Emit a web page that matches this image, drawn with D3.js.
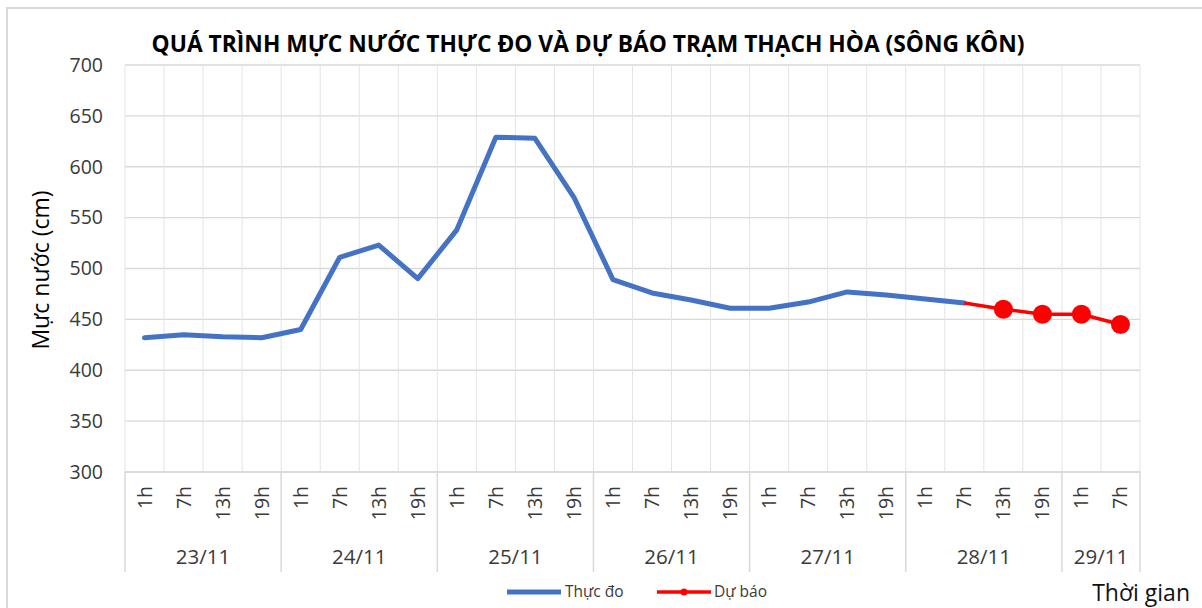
<!DOCTYPE html>
<html>
<head>
<meta charset="utf-8">
<script src="https://cdn.jsdelivr.net/npm/d3@7"></script>
<style>
  body { margin: 0; background: #fff; }
  svg { display: block; font-family: "Open Sans", "Noto Sans", sans-serif; }
</style>
</head>
<body>
<div id="chart"></div>
<script>
// Data
const hourLabels = ["1h", "7h", "13h", "19h", "1h", "7h", "13h", "19h", "1h", "7h", "13h", "19h",
  "1h", "7h", "13h", "19h", "1h", "7h", "13h", "19h", "1h", "7h", "13h", "19h", "1h", "7h"];
const dayLabels = ["23/11", "24/11", "25/11", "26/11", "27/11", "28/11", "29/11"];
const pointsPerDay = [4, 4, 4, 4, 4, 4, 2];
const observed = [432, 435, 433, 432, 440, 511, 523, 490, 538, 629, 628, 570,
  489, 476, 469, 461, 461, 467, 477, 474, 470, 466, null, null, null, null];
const forecast = [null, null, null, null, null, null, null, null, null, null, null, null,
  null, null, null, null, null, null, null, null, null, 466, 460, 455, 455, 445];
const yTicks = [300, 350, 400, 450, 500, 550, 600, 650, 700];

const W = 1202, H = 608;
const plot = { left: 125, right: 1140, top: 65, bottom: 472 };
const textColor = "#3a3a3a";

const svg = d3.select("#chart").append("svg")
  .attr("width", W)
  .attr("height", H);

// chart area border (cut off at right/bottom like the screenshot)
svg.append("rect")
  .attr("x", 7).attr("y", 8)
  .attr("width", W + 20).attr("height", H + 20)
  .attr("fill", "none")
  .attr("stroke", "#d9d9d9")
  .attr("stroke-width", 2);

const x = d3.scaleBand()
  .domain(d3.range(hourLabels.length))
  .range([plot.left, plot.right])
  .padding(0);
const bw = x.bandwidth();
const cx = i => x(i) + bw / 2;

const y = d3.scaleLinear()
  .domain([300, 700])
  .range([plot.bottom, plot.top]);

// horizontal gridlines
svg.append("g")
  .selectAll("line")
  .data(yTicks)
  .join("line")
    .attr("x1", plot.left).attr("x2", plot.right)
    .attr("y1", d => y(d)).attr("y2", d => y(d))
    .attr("stroke", "#d9d9d9")
    .attr("stroke-width", 1.3);

// vertical minor gridlines at every category boundary
const boundaries = d3.range(hourLabels.length + 1).map(i => i < hourLabels.length ? x(i) : plot.right);
svg.append("g")
  .selectAll("line")
  .data(boundaries)
  .join("line")
    .attr("x1", d => d).attr("x2", d => d)
    .attr("y1", plot.top).attr("y2", plot.bottom)
    .attr("stroke", "#e3e3e3")
    .attr("stroke-width", 1);

// category axis line + group separators
svg.append("line")
  .attr("x1", plot.left).attr("x2", plot.right)
  .attr("y1", plot.bottom).attr("y2", plot.bottom)
  .attr("stroke", "#d9d9d9")
  .attr("stroke-width", 1.5);

const groupStarts = d3.cumsum([0, ...pointsPerDay]);
svg.append("g")
  .selectAll("line")
  .data(groupStarts)
  .join("line")
    .attr("x1", d => d < hourLabels.length ? x(d) : plot.right)
    .attr("x2", d => d < hourLabels.length ? x(d) : plot.right)
    .attr("y1", plot.bottom).attr("y2", plot.bottom + 100)
    .attr("stroke", "#d9d9d9")
    .attr("stroke-width", 1.5);

// y tick labels
svg.append("g")
  .selectAll("text")
  .data(yTicks)
  .join("text")
    .attr("x", 103)
    .attr("y", d => y(d))
    .attr("dy", "0.35em")
    .attr("text-anchor", "end")
    .style("font-size", "19.5px")
    .style("fill", textColor)
    .text(d => d);

// hour labels (rotated)
svg.append("g")
  .selectAll("text")
  .data(hourLabels)
  .join("text")
    .attr("transform", (d, i) => `translate(${cx(i) + 7}, 486) rotate(-90)`)
    .attr("text-anchor", "end")
    .style("font-size", "19.5px")
    .style("fill", textColor)
    .text(d => d);

// day labels
svg.append("g")
  .selectAll("text")
  .data(dayLabels)
  .join("text")
    .attr("x", (d, i) => {
      const a = x(groupStarts[i]);
      const b = groupStarts[i + 1] < hourLabels.length ? x(groupStarts[i + 1]) : plot.right;
      return (a + b) / 2;
    })
    .attr("y", 564)
    .attr("text-anchor", "middle")
    .style("font-size", "20.5px")
    .style("fill", textColor)
    .text(d => d);

// y axis title
svg.append("text")
  .attr("transform", "translate(49, 270) rotate(-90)")
  .attr("text-anchor", "middle")
  .style("font-size", "23px")
  .style("fill", "#000")
  .text("Mực nước (cm)");

// x axis title
svg.append("text")
  .attr("x", 1190)
  .attr("y", 601)
  .attr("text-anchor", "end")
  .style("font-size", "23px")
  .style("fill", "#111")
  .text("Thời gian");

// title, sized to span the same width as the reference
const title = svg.append("text")
  .attr("x", 588)
  .attr("y", 52)
  .attr("text-anchor", "middle")
  .style("font-size", "20px")
  .style("font-weight", "bold")
  .style("fill", "#000")
  .text("QUÁ TRÌNH MỰC NƯỚC THỰC ĐO VÀ DỰ BÁO TRẠM THẠCH HÒA (SÔNG KÔN)");
const tw = title.node().getComputedTextLength();
title.style("font-size", (20 * 873 / tw).toFixed(2) + "px");

// lines
const line = d3.line()
  .defined(d => d.v != null)
  .x(d => cx(d.i))
  .y(d => y(d.v));

svg.append("path")
  .datum(observed.map((v, i) => ({ i, v })))
  .attr("d", line)
  .attr("fill", "none")
  .attr("stroke", "#4472c4")
  .attr("stroke-width", 5)
  .attr("stroke-linejoin", "round")
  .attr("stroke-linecap", "round");

svg.append("path")
  .datum(forecast.map((v, i) => ({ i, v })))
  .attr("d", line)
  .attr("fill", "none")
  .attr("stroke", "#ff0000")
  .attr("stroke-width", 3.5)
  .attr("stroke-linejoin", "round");

// forecast markers (only on points without an observed value)
svg.append("g")
  .selectAll("circle")
  .data(forecast.map((v, i) => ({ i, v })).filter(d => d.v != null && observed[d.i] == null))
  .join("circle")
    .attr("cx", d => cx(d.i))
    .attr("cy", d => y(d.v))
    .attr("r", 9.5)
    .attr("fill", "#ff0000");

// legend
const legend = svg.append("g").attr("transform", "translate(0, 592)");
legend.append("line")
  .attr("x1", 507).attr("x2", 561)
  .attr("stroke", "#4472c4")
  .attr("stroke-width", 5);
legend.append("text")
  .attr("x", 565).attr("dy", "0.35em")
  .style("font-size", "15.5px")
  .style("fill", textColor)
  .text("Thực đo");
legend.append("line")
  .attr("x1", 657).attr("x2", 711)
  .attr("stroke", "#ff0000")
  .attr("stroke-width", 3.5);
legend.append("circle")
  .attr("cx", 684).attr("r", 3.5)
  .attr("fill", "#ff0000");
legend.append("text")
  .attr("x", 714).attr("dy", "0.35em")
  .style("font-size", "15.5px")
  .style("fill", textColor)
  .text("Dự báo");
</script>
</body>
</html>
